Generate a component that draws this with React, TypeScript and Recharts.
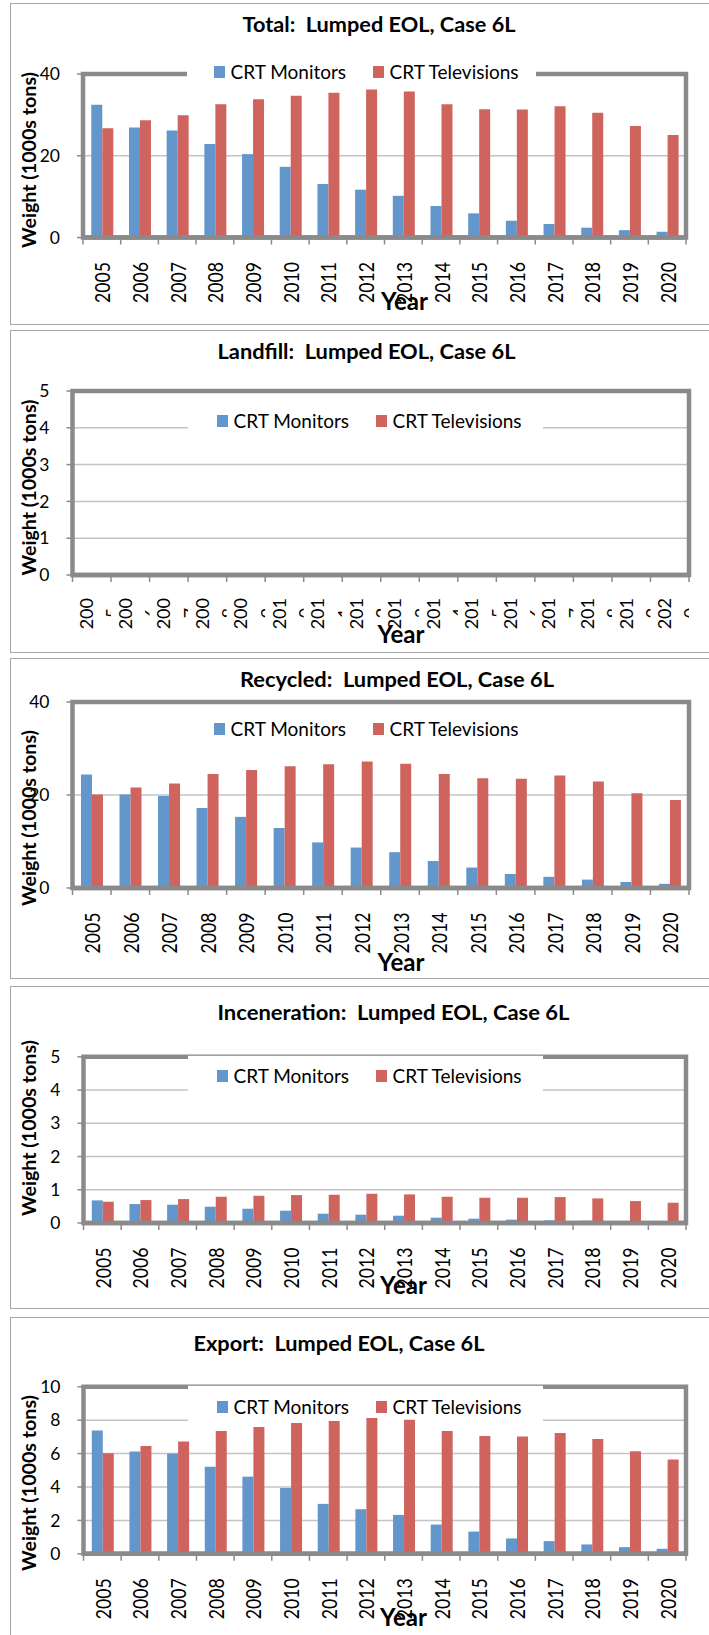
import React from "react"
import { BarChart, Bar, XAxis, YAxis, CartesianGrid, ReferenceArea, Legend } from "recharts"

// categories
const years = ["2005", "2006", "2007", "2008", "2009", "2010", "2011", "2012", "2013", "2014", "2015", "2016", "2017", "2018", "2019", "2020"]

// series values (1000s tons)
const totalMonitors = [32.5, 26.9, 26.2, 22.9, 20.4, 17.3, 13.1, 11.7, 10.2, 7.7, 5.9, 4.1, 3.3, 2.4, 1.8, 1.4]
const totalTelevisions = [26.7, 28.7, 29.9, 32.6, 33.8, 34.7, 35.4, 36.2, 35.7, 32.6, 31.4, 31.3, 32.1, 30.5, 27.3, 25.1]

const landfillMonitors = [0, 0, 0, 0, 0, 0, 0, 0, 0, 0, 0, 0, 0, 0, 0, 0]
const landfillTelevisions = [0, 0, 0, 0, 0, 0, 0, 0, 0, 0, 0, 0, 0, 0, 0, 0]

const recycledMonitors = [24.4, 20.1, 19.8, 17.2, 15.3, 12.9, 9.8, 8.7, 7.7, 5.8, 4.4, 3.0, 2.4, 1.8, 1.3, 0.9]
const recycledTelevisions = [20.1, 21.6, 22.5, 24.5, 25.4, 26.2, 26.6, 27.2, 26.7, 24.5, 23.6, 23.5, 24.2, 22.9, 20.4, 18.9]

const incinerationMonitors = [0.68, 0.57, 0.55, 0.49, 0.43, 0.37, 0.28, 0.25, 0.22, 0.16, 0.13, 0.1, 0.08, 0.07, 0.06, 0.05]
const incinerationTelevisions = [0.64, 0.69, 0.72, 0.79, 0.82, 0.84, 0.85, 0.88, 0.86, 0.79, 0.76, 0.76, 0.78, 0.74, 0.66, 0.61]

const exportMonitors = [7.39, 6.12, 6.0, 5.22, 4.62, 3.94, 2.99, 2.67, 2.33, 1.75, 1.33, 0.92, 0.76, 0.56, 0.4, 0.3]
const exportTelevisions = [6.02, 6.45, 6.73, 7.35, 7.59, 7.83, 7.95, 8.13, 8.03, 7.35, 7.05, 7.03, 7.23, 6.87, 6.14, 5.64]

// y tick labels
const ticks40 = [0, 20, 40]
const ticks5 = [0, 1, 2, 3, 4, 5]
const ticks10 = [0, 2, 4, 6, 8, 10]

const BLUE = "#6397CC"
const RED = "#CF645F"
const FRAME = "#8A8A8A"
const GRID = "#C4C4C4"
const FONT = "Lato, 'Open Sans', sans-serif"
const PAGE_W = 709
const PAGE_H = 1635

type Spec = {
  key: string
  title: string
  monitors: number[]
  televisions: number[]
  yMax: number
  yTicks: number[]
  box: [number, number]
  rect: { l: number; r: number; t: number; b: number }
  titleX: number
  titleBase: number
  titleLen: number
  labelY: number
  yearX: number
  yearBase: number
  legendY: number
  legendLeft: number
  legendWidth: number
  legendBg: [number, number] // white patch behind the legend (page y)
  itemsLeft: number
  wrapped?: boolean
}

const panels: Spec[] = [
  {
    key: "total", title: "Total:  Lumped EOL, Case 6L", monitors: totalMonitors, televisions: totalTelevisions,
    yMax: 40, yTicks: ticks40, box: [3, 325], rect: { l: 83, r: 686, t: 74, b: 237.5 },
    titleX: 379, titleBase: 31.5, titleLen: 273, labelY: 160, yearX: 404.5, yearBase: 310,
    legendY: 71.5, legendLeft: 187, legendWidth: 349, legendBg: [52, 90], itemsLeft: 214,
  },
  {
    key: "landfill", title: "Landfill:  Lumped EOL, Case 6L", monitors: landfillMonitors, televisions: landfillTelevisions,
    yMax: 5, yTicks: ticks5, box: [330, 653], rect: { l: 72.5, r: 689, t: 391, b: 575 },
    titleX: 366.5, titleBase: 359, titleLen: 298, labelY: 487.5, yearX: 401, yearBase: 642.5,
    legendY: 421, legendLeft: 188, legendWidth: 355, legendBg: [400, 431], itemsLeft: 217, wrapped: true,
  },
  {
    key: "recycled", title: "Recycled:  Lumped EOL, Case 6L", monitors: recycledMonitors, televisions: recycledTelevisions,
    yMax: 40, yTicks: ticks40, box: [658, 979], rect: { l: 72.5, r: 689, t: 702, b: 888 },
    titleX: 397, titleBase: 687, titleLen: 314, labelY: 818, yearX: 401, yearBase: 970.5,
    legendY: 728.5, legendLeft: 187, legendWidth: 349, legendBg: [708, 748], itemsLeft: 214,
  },
  {
    key: "incineration", title: "Inceneration:  Lumped EOL, Case 6L", monitors: incinerationMonitors, televisions: incinerationTelevisions,
    yMax: 5, yTicks: ticks5, box: [985.5, 1309], rect: { l: 83.5, r: 686, t: 1056.3, b: 1222.5 },
    titleX: 393.5, titleBase: 1019, titleLen: 352, labelY: 1127.5, yearX: 403.5, yearBase: 1293,
    legendY: 1075.5, legendLeft: 188, legendWidth: 355, legendBg: [1055.3, 1092], itemsLeft: 217,
  },
  {
    key: "export", title: "Export:  Lumped EOL, Case 6L", monitors: exportMonitors, televisions: exportTelevisions,
    yMax: 10, yTicks: ticks10, box: [1316.5, 1660], rect: { l: 83.5, r: 686, t: 1386.3, b: 1553.3 },
    titleX: 339, titleBase: 1350, titleLen: 291, labelY: 1482.5, yearX: 403.5, yearBase: 1625,
    legendY: 1407, legendLeft: 188, legendWidth: 355, legendBg: [1385.3, 1422], itemsLeft: 217,
  },
]

function LegendBox({ payload, offset }: { payload?: any[]; offset: number }) {
  const slots = [0, 159]
  return (
    <div style={{ position: "relative", width: "100%", height: "100%" }}>
      {(payload || []).map((entry, i) => (
        <React.Fragment key={entry.value}>
          <div
            style={{
              position: "absolute", left: offset + slots[i], top: 14, width: 11, height: 12,
              background: entry.color,
            }}
          />
          <div
            style={{
              position: "absolute", left: offset + slots[i] + 16.5, top: 0, height: 40, lineHeight: "40px",
              fontFamily: FONT, fontSize: 19, color: "#000", whiteSpace: "nowrap",
            }}
          >
            {entry.value}
          </div>
        </React.Fragment>
      ))}
    </div>
  )
}

function Panel({ p }: { p: Spec }) {
  const top = p.box[0]
  const h = Math.min(p.box[1], PAGE_H) - top
  const data = years.map((year, i) => ({ year, monitors: p.monitors[i], televisions: p.televisions[i] }))
  const bw = (p.rect.r - p.rect.l) / years.length
  const axisY = p.rect.b - top

  const renderTick = (props: any) => {
    const { x, payload, index } = props
    const label = String(payload.value)
    const left = x - bw / 2
    const marks = [
      <line key="m" x1={left} x2={left} y1={axisY + 2} y2={axisY + 7} stroke={FRAME} strokeWidth={1.5} />,
    ]
    if (index === years.length - 1) {
      marks.push(<line key="e" x1={left + bw} x2={left + bw} y1={axisY + 2} y2={axisY + 7} stroke={FRAME} strokeWidth={1.5} />)
    }
    if (!p.wrapped) {
      return (
        <g>
          {marks}
          <text
            transform={`translate(${x + 8.5},${axisY + 24.5}) rotate(-90)`}
            textAnchor="end" fontSize={21} fontFamily={FONT} fill="#000"
            textLength={41} lengthAdjust="spacingAndGlyphs"
          >
            {label}
          </text>
        </g>
      )
    }
    // label too long for the slot: wraps onto a second line that is cut off
    const id = `clip-${p.key}-${index}`
    return (
      <g>
        {marks}
        <defs>
          <clipPath id={id}>
            <rect x={left} y={axisY + 10} width={bw} height={80} />
          </clipPath>
        </defs>
        <g clipPath={`url(#${id})`}>
          <text transform={`translate(${x + 1.3},${axisY + 23}) rotate(-90)`} textAnchor="end" fontSize={18} fontFamily={FONT} fill="#000">
            {label.slice(0, 3)}
          </text>
          <text transform={`translate(${x + 27.7},${axisY + 38}) rotate(-90)`} textAnchor="middle" fontSize={18} fontFamily={FONT} fill="#000">
            {label.slice(3)}
          </text>
        </g>
      </g>
    )
  }

  // white patch behind the legend: hides frame and gridlines, bars still go over it
  const legendPatch = () => (
    <rect
      x={p.legendLeft}
      y={p.legendBg[0] - top}
      width={p.legendWidth}
      height={p.legendBg[1] - p.legendBg[0]}
      fill="#fff"
    />
  )

  return (
    <>
      <div
        style={{
          position: "absolute", left: 10, top, width: 720, height: p.box[1] - top,
          border: "1.5px solid #A6A6A6", boxSizing: "border-box",
        }}
      />
      <div style={{ position: "absolute", left: 0, top, width: PAGE_W, height: h }}>
        <BarChart
          width={PAGE_W}
          height={h}
          data={data}
          margin={{ top: p.rect.t - top, right: PAGE_W - p.rect.r, bottom: 0, left: 0 }}
          barCategoryGap="22%"
          barGap={0}
        >
          <CartesianGrid vertical={false} stroke={GRID} strokeWidth={1.5} />
          <ReferenceArea
            x1={years[0]}
            x2={years[years.length - 1]}
            y1={0}
            y2={p.yMax}
            fill="none"
            fillOpacity={0}
            stroke={FRAME}
            strokeWidth={4.5}
          />
          <ReferenceArea x1={years[0]} x2={years[years.length - 1]} y1={0} y2={p.yMax} shape={legendPatch} />
          <Bar dataKey="monitors" name="CRT Monitors" fill={BLUE} isAnimationActive={false} />
          <Bar dataKey="televisions" name="CRT Televisions" fill={RED} isAnimationActive={false} />
          <XAxis
            dataKey="year"
            height={h - axisY}
            axisLine={{ stroke: FRAME, strokeWidth: 4.5 }}
            tickLine={false}
            interval={0}
            tick={renderTick}
          />
          <YAxis
            type="number"
            domain={[0, p.yMax]}
            ticks={p.yTicks}
            interval={0}
            width={p.rect.l}
            axisLine={false}
            tickLine={{ stroke: FRAME, strokeWidth: 1.5 }}
            tickSize={6}
            tickMargin={17}
            tick={{ fill: "#000", fontSize: 17.5, fontFamily: FONT }}
          />
          <Legend
            layout="horizontal"
            verticalAlign="middle"
            align="center"
            wrapperStyle={{ left: p.legendLeft, top: p.legendY - 20 - top, width: p.legendWidth, height: 38 }}
            content={(props: any) => <LegendBox payload={props.payload} offset={p.itemsLeft - p.legendLeft} />}
          />
        </BarChart>
      </div>
      <svg
        width={PAGE_W}
        height={h}
        style={{ position: "absolute", left: 0, top, overflow: "visible", pointerEvents: "none" }}
      >
        <text
          x={p.titleX} y={p.titleBase - top} textAnchor="middle" fontFamily={FONT} fontWeight={700} fontSize={21}
          textLength={p.titleLen} lengthAdjust="spacingAndGlyphs" style={{ whiteSpace: "pre" }} fill="#000"
        >
          {p.title}
        </text>
        <text
          transform={`translate(36,${p.labelY - top}) rotate(-90)`} textAnchor="middle" fontFamily={FONT}
          fontWeight={700} fontSize={19.5} textLength={176} lengthAdjust="spacingAndGlyphs" fill="#000"
        >
          Weight (1000s tons)
        </text>
        <text
          x={p.yearX} y={p.yearBase - top} textAnchor="middle" fontFamily={FONT} fontWeight={700} fontSize={24}
          textLength={47} lengthAdjust="spacingAndGlyphs" fill="#000"
        >
          Year
        </text>
      </svg>
    </>
  )
}

export default function App() {
  return (
    <div
      style={{
        position: "absolute", left: 0, top: 0, width: PAGE_W, height: PAGE_H, overflow: "hidden",
        background: "#fff", fontFamily: FONT,
      }}
    >
      {panels.map((p) => (
        <Panel key={p.key} p={p} />
      ))}
    </div>
  )
}
